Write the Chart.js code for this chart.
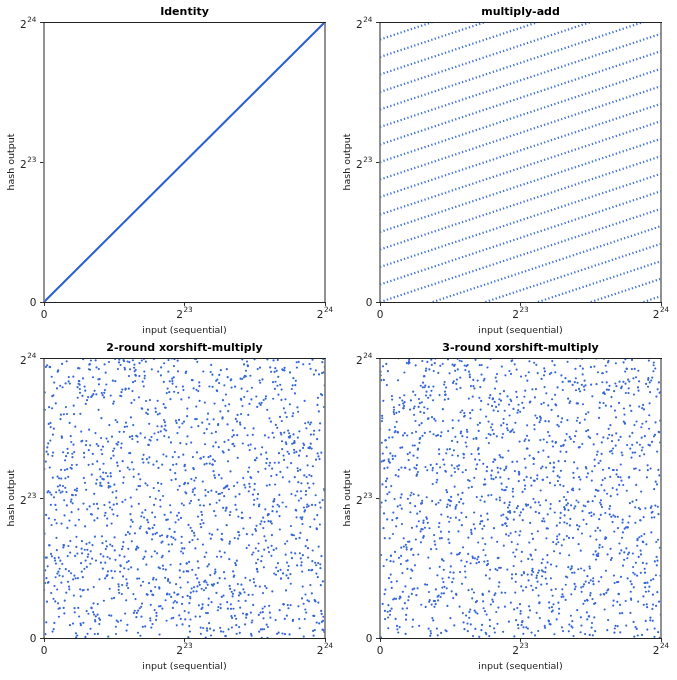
<!DOCTYPE html>
<html>
<head>
<meta charset="utf-8">
<script src="https://cdn.jsdelivr.net/npm/chart.js@4.4.1/dist/chart.umd.min.js"></script>
<style>
    body { margin: 0; background: #fff; }
    .page { position: relative; width: 677px; height: 680px; }
    .page canvas { position: absolute; }
</style>
</head>
<body>
<div class="page">
    <canvas id="identityChart" width="336" height="340" style="left:0;top:0"></canvas>
    <canvas id="mulAddChart" width="336" height="340" style="left:336px;top:0"></canvas>
    <canvas id="xsm2Chart" width="336" height="340" style="left:0;top:336px"></canvas>
    <canvas id="xsm3Chart" width="336" height="340" style="left:336px;top:336px"></canvas>
</div>
<script>
// axis range is the full 24-bit space
const SPACE = 2 ** 24;
const tickValues = [0, 2 ** 23, 2 ** 24];
const tickBase = ['0', '2', '2'];
const tickExp = ['', '23', '24'];

// identity: output == input
const identityInputs = [0, SPACE];
const identityOutputs = [0, SPACE];

// multiply-add stripes (fractions of 2^24)
const stripeStartX = [0, 0, 0, 0, 0, 0, 0, 0, 0, 0, 0, 0, 0, 0, 0, 0,
    0.1875, 0.375, 0.5625, 0.75, 0.9375];
const stripeStartY = [0, 0.0625, 0.125, 0.1875, 0.25, 0.3125, 0.375, 0.4375, 0.5, 0.5625, 0.625, 0.6875, 0.75, 0.8125, 0.875, 0.9375,
    0, 0, 0, 0, 0];
const stripeEndX = [1, 1, 1, 1, 1, 1, 1, 1, 1, 1, 1, 0.9375, 0.75, 0.5625, 0.375, 0.1875,
    1, 1, 1, 1, 1];
const stripeEndY = [0.333, 0.396, 0.458, 0.521, 0.583, 0.646, 0.708, 0.771, 0.833, 0.896, 0.958, 1, 1, 1, 1, 1,
    0.271, 0.208, 0.146, 0.083, 0.021];

// xorshift-multiply plots: sequential inputs across the space, hashed
const SAMPLE_COUNT = 1600;
const sequentialInputs = Array.from({ length: SAMPLE_COUNT }, (_, i) => Math.floor(i * SPACE / SAMPLE_COUNT));
const multipliers = [0xC2B2AF, 0x85EBCB, 0x27D4EB];

const BLUE = '#2a5fd6';
const DOT = '#3566d8';
const STRIPE = '#4474da';
const FONT = '"DejaVu Sans"';

function xorshiftMultiply(x, rounds) {
    for (let r = 0; r < rounds; r++) {
        x ^= x >>> 12;
        x = Math.imul(x, multipliers[r]) & 0xffffff;
    }
    x ^= x >>> 12;
    return x;
}

// "2" with a raised exponent, like 2^24
function drawPower(ctx, i, x, baseline, align) {
    ctx.font = '10.5px ' + FONT;
    const wBase = ctx.measureText(tickBase[i]).width;
    ctx.font = '7.3px ' + FONT;
    const wExp = tickExp[i] ? ctx.measureText(tickExp[i]).width + 0.5 : 0;
    const total = wBase + wExp;
    let left = align === 'center' ? x - total / 2 : x - total;
    ctx.textAlign = 'left';
    ctx.textBaseline = 'alphabetic';
    ctx.font = '10.5px ' + FONT;
    ctx.fillText(tickBase[i], left, baseline);
    if (tickExp[i]) {
        ctx.font = '7.3px ' + FONT;
        ctx.fillText(tickExp[i], left + wBase + 0.5, baseline - 6);
    }
}

// titles, tick labels and the four spines
const framePlugin = {
    id: 'frame',
    afterDraw(chart, args, opts) {
        const { ctx, chartArea: a, scales } = chart;
        ctx.save();
        ctx.fillStyle = '#000';
        ctx.font = 'bold 11px ' + FONT;
        ctx.textAlign = 'center';
        ctx.textBaseline = 'middle';
        ctx.fillText(opts.title, (a.left + a.right) / 2, 12);

        ctx.fillStyle = '#222';
        tickValues.forEach((v, i) => {
            drawPower(ctx, i, scales.x.getPixelForValue(v), a.bottom + 15.5, 'center');
            const py = scales.y.getPixelForValue(v);
            drawPower(ctx, i, a.left - 7.5, py + (tickExp[i] ? 5.7 : 3.8), 'right');
        });

        ctx.strokeStyle = '#777';
        ctx.lineWidth = 1.6;
        ctx.beginPath();
        ctx.moveTo(a.left, a.top); ctx.lineTo(a.left, a.bottom);
        ctx.moveTo(a.right, a.top); ctx.lineTo(a.right, a.bottom);
        ctx.stroke();
        ctx.strokeStyle = '#222';
        ctx.lineWidth = 1;
        ctx.beginPath();
        ctx.moveTo(a.left - 1, Math.round(a.top) + 0.5); ctx.lineTo(a.right + 1, Math.round(a.top) + 0.5);
        ctx.moveTo(a.left - 1, Math.round(a.bottom) + 0.5); ctx.lineTo(a.right + 1, Math.round(a.bottom) + 0.5);
        ctx.stroke();
        ctx.restore();
    }
};

function axis(title, isX) {
    return {
        type: 'linear',
        min: 0,
        max: SPACE,
        afterBuildTicks: s => { s.ticks = tickValues.map(v => ({ value: v })); },
        afterFit: s => {
            if (isX) s.height = 38; else s.width = 44;
        },
        ticks: { display: false },
        grid: { drawOnChartArea: false, drawTicks: true, tickLength: 4, color: '#333' },
        border: { display: false },
        title: {
            display: true,
            text: title,
            color: '#222',
            font: { family: 'DejaVu Sans', size: 9.5 },
            padding: isX ? { top: 0, bottom: 4 } : { top: 6, bottom: 0 }
        }
    };
}

function makeChart(id, title, datasets) {
    return new Chart(document.getElementById(id), {
        type: 'scatter',
        data: { datasets: datasets },
        options: {
            responsive: false,
            animation: false,
            layout: { padding: { top: 22, right: 11, left: 0, bottom: 0 } },
            scales: {
                x: axis('input (sequential)', true),
                y: axis('hash output', false)
            },
            plugins: {
                legend: { display: false },
                tooltip: { enabled: false },
                frame: { title: title }
            }
        },
        plugins: [framePlugin]
    });
}

makeChart('identityChart', 'Identity', [{
    data: identityInputs.map((x, i) => ({ x: x, y: identityOutputs[i] })),
    showLine: true,
    borderColor: BLUE,
    borderWidth: 2,
    pointRadius: 0
}]);

makeChart('mulAddChart', 'multiply-add', stripeStartX.map((x0, i) => ({
    data: [
        { x: x0 * SPACE, y: stripeStartY[i] * SPACE },
        { x: stripeEndX[i] * SPACE, y: stripeEndY[i] * SPACE }
    ],
    showLine: true,
    borderColor: STRIPE,
    borderWidth: 2.2,
    borderDash: [1.3, 2.3],
    pointRadius: 0
})));

makeChart('xsm2Chart', '2-round xorshift-multiply', [{
    data: sequentialInputs.map(x => ({ x: x, y: xorshiftMultiply(x, 2) })),
    pointRadius: 1.1,
    pointBorderWidth: 0,
    backgroundColor: DOT
}]);

makeChart('xsm3Chart', '3-round xorshift-multiply', [{
    data: sequentialInputs.map(x => ({ x: x, y: xorshiftMultiply(x, 3) })),
    pointRadius: 1.1,
    pointBorderWidth: 0,
    backgroundColor: DOT
}]);
</script>
</body>
</html>
